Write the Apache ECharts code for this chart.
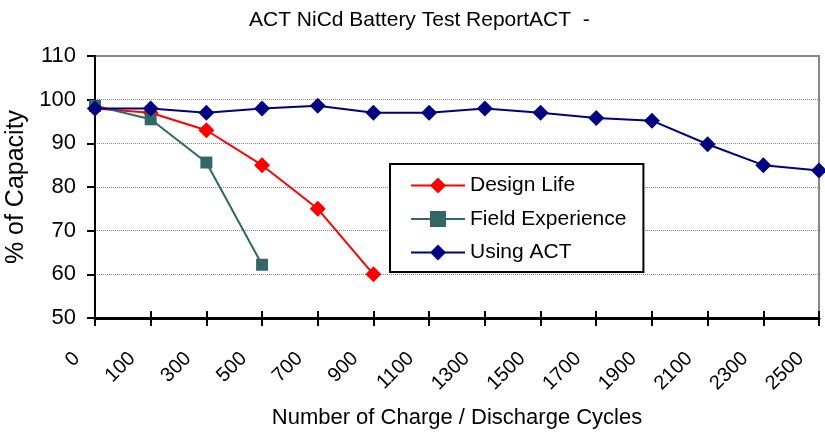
<!DOCTYPE html>
<html><head><meta charset="utf-8">
<script src="https://cdn.jsdelivr.net/npm/echarts@6/dist/echarts.min.js"></script>
<style>html,body{margin:0;padding:0;background:#fff}#c{width:825px;height:438px}</style>
</head><body><div id="c"></div>
<script>
const titleText = 'ACT NiCd Battery Test ReportACT  -';
const categories = ['0','100','300','500','700','900','1100','1300','1500','1700','1900','2100','2300','2500'];
const designLife = [98, 97, 93, 85, 75, 60];
const fieldExperience = [98.6, 95.5, 85.6, 62.2];
const usingACT = [98, 98, 97, 98, 98.6, 97, 97, 98, 97, 95.8, 95.2, 89.8, 85, 83.8];
const yTicks = {min: 50, max: 110, interval: 10};

const FA = '"Liberation Sans",Arial,sans-serif';
const chart = echarts.init(document.getElementById('c'));
chart.setOption({
  animation: false,
  backgroundColor: '#fff',
  title: {text: titleText, left: 244, top: 5, textStyle: {fontFamily: FA, fontSize: 21, fontWeight: 'normal', color: '#000'}},
  grid: {left: 95, right: 6, top: 56, bottom: 120, show: true, borderColor: '#888', borderWidth: 2,
         containLabel: false, outerBoundsMode: 'none'},
  legend: {
    orient: 'vertical', left: 390, top: 164,
    borderColor: '#000', borderWidth: 2, backgroundColor: '#fff',
    padding: [11, 17, 9, 20], itemWidth: 54, itemHeight: 20, itemGap: 12.5,
    textStyle: {fontFamily: FA, fontSize: 21, color: '#000'},
    data: ['Design Life', 'Field Experience', 'Using ACT']
  },
  xAxis: [{
    type: 'category', data: categories, boundaryGap: false,
    name: 'Number of Charge / Discharge Cycles', nameLocation: 'middle', nameGap: 89,
    nameTextStyle: {fontFamily: FA, fontSize: 22, color: '#000'},
    axisLine: {lineStyle: {color: '#000', width: 3}},
    axisTick: {show: true, length: 8, lineStyle: {color: '#000', width: 2}},
    axisLabel: {rotate: 45, margin: 19, padding: [0, 26, 0, 0], fontFamily: FA, fontSize: 20, color: '#000', interval: 0},
    splitLine: {show: false}
  }, {
    type: 'category', data: categories, boundaryGap: false, position: 'bottom',
    axisLine: {show: false},
    axisTick: {show: true, inside: true, length: 7, lineStyle: {color: '#000', width: 2}},
    axisLabel: {show: false}, splitLine: {show: false}
  }],
  yAxis: {
    type: 'value', min: yTicks.min, max: yTicks.max, interval: yTicks.interval,
    name: '% of Capacity', nameLocation: 'middle', nameGap: 66, nameRotate: 90,
    nameTextStyle: {fontFamily: FA, fontSize: 25, color: '#000'},
    axisLine: {show: true, lineStyle: {color: '#000', width: 2}},
    axisTick: {show: true, length: 8, lineStyle: {color: '#000', width: 2}},
    axisLabel: {fontFamily: FA, fontSize: 22, color: '#000', margin: 19},
    splitLine: {show: true, lineStyle: {color: '#888', type: 'dotted', width: 1}}
  },
  series: [
    {name: 'Design Life', type: 'line', data: designLife, symbol: 'diamond', symbolSize: 16,
     itemStyle: {color: '#FF0000'}, lineStyle: {color: '#FF0000', width: 2}},
    {name: 'Field Experience', type: 'line', data: fieldExperience, symbol: 'rect', symbolSize: 12,
     itemStyle: {color: '#336666'}, lineStyle: {color: '#336666', width: 2}},
    {name: 'Using ACT', type: 'line', data: usingACT, symbol: 'diamond', symbolSize: 16,
     itemStyle: {color: '#000080'}, lineStyle: {color: '#000080', width: 2}}
  ]
});
</script></body></html>
